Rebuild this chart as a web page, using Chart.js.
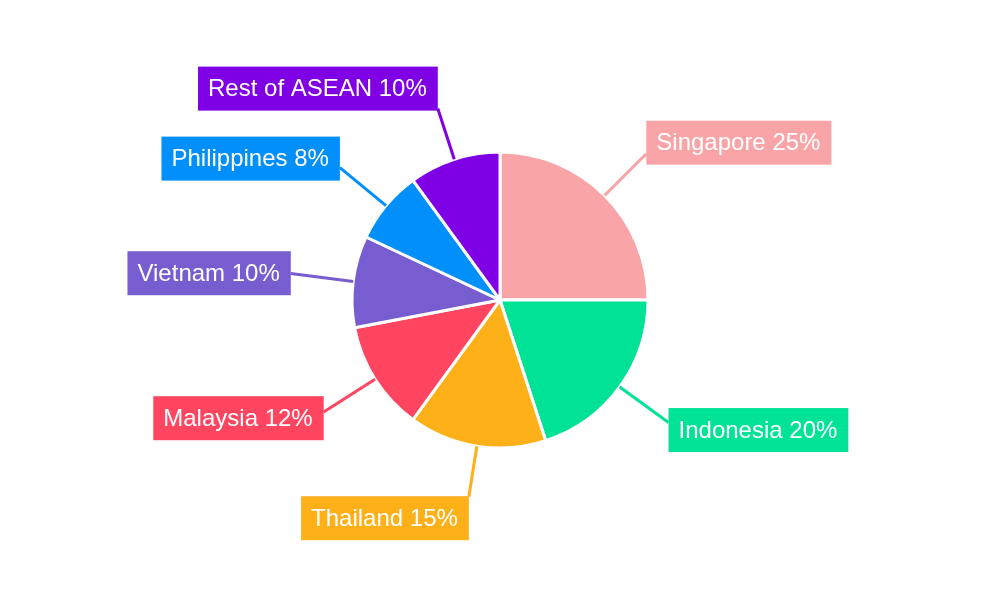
<!DOCTYPE html>
<html>
<head>
<meta charset="utf-8">
<script src="https://cdn.jsdelivr.net/npm/chart.js@4"></script>
<style>
  html, body { margin: 0; padding: 0; background: #fff; }
  #wrap { width: 1000px; height: 600px; }
</style>
</head>
<body>
<div id="wrap"><canvas id="aseanChart"></canvas></div>
<script>
// ASEAN share
const countries = ['Singapore', 'Indonesia', 'Thailand', 'Malaysia', 'Vietnam', 'Philippines', 'Rest of ASEAN'];
const shares = [25, 20, 15, 12, 10, 8, 10];
const sliceColors = ['#F9A5A8', '#00E396', '#FEB019', '#FF4560', '#775DD0', '#008FFB', '#8000E6'];

// boxed labels with leader lines
const calloutPlugin = {
  id: 'callouts',
  afterDatasetsDraw(chart) {
    const ctx = chart.ctx;
    const meta = chart.getDatasetMeta(0);
    ctx.save();
    ctx.font = '24px "Liberation Sans", Arial, sans-serif';
    ctx.textBaseline = 'middle';
    meta.data.forEach(function (arc, i) {
      const mid = (arc.startAngle + arc.endAngle) / 2;
      const dx = Math.cos(mid), dy = Math.sin(mid);
      const r0 = arc.outerRadius;
      const r1 = r0 + 49 + 14 * Math.abs(dx);
      const sx = arc.x + dx * r0, sy = arc.y + dy * r0;
      const ex = arc.x + dx * r1, ey = arc.y + dy * r1;

      ctx.strokeStyle = sliceColors[i];
      ctx.lineWidth = 3;
      ctx.beginPath();
      ctx.moveTo(sx, sy);
      ctx.lineTo(ex, ey);
      ctx.stroke();

      const text = countries[i] + ' ' + shares[i] + '%';
      const w = ctx.measureText(text).width + 21;
      const h = 44;
      const left = dx >= 0 ? ex : ex - w;
      const cy = ey + (h / 2) * dy * Math.abs(dy);
      ctx.fillStyle = sliceColors[i];
      ctx.fillRect(left, cy - h / 2, w, h);
      ctx.fillStyle = '#ffffff';
      ctx.textAlign = 'left';
      ctx.fillText(text, left + 10, cy + 1);
    });
    ctx.restore();
  }
};

new Chart(document.getElementById('aseanChart').getContext('2d'), {
  type: 'pie',
  data: {
    labels: countries,
    datasets: [{
      data: shares,
      backgroundColor: sliceColors,
      borderColor: '#ffffff',
      borderWidth: 3,
      radius: 148
    }]
  },
  options: {
    responsive: true,
    maintainAspectRatio: false,
    animation: false,
    plugins: {
      legend: { display: false },
      tooltip: { enabled: false }
    }
  },
  plugins: [calloutPlugin]
});
</script>
</body>
</html>
